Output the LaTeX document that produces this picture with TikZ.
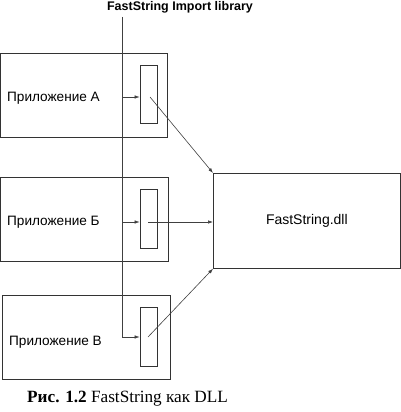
\documentclass[tikz,border=0pt]{standalone}
\usepackage{fontspec}
\setmainfont{Liberation Serif}
\newfontfamily\arialf{Liberation Sans}
\usetikzlibrary{arrows.meta}
\begin{document}
\begin{tikzpicture}[x=1pt,y=-1pt,
  box/.style={draw=black!80,line width=0.7pt},
  lbl/.style={font=\arialf\fontsize{13.6}{15}\selectfont,inner sep=0pt},
  conn/.style={draw=black!75,line width=0.6pt},
  arr/.style={conn,-{Latex[length=5pt,width=3.5pt]}}]
\useasboundingbox (0,0) rectangle (400,412);
% title
\node[inner sep=0pt,font=\arialf\bfseries\fontsize{12.5}{14}\selectfont] (title) at (180,7) {FastString Import library};
% app boxes
\draw[box] (0.5,53) rectangle (167,137);
\draw[box] (0.5,177) rectangle (168,261);
\draw[box] (2,295) rectangle (170,379);
\node[lbl,anchor=west] (tA) at (7,98) {Приложение А};
\node[lbl,anchor=west] (tB) at (7,222) {Приложение Б};
\node[lbl,anchor=west] (tC) at (9,342) {Приложение В};
% small stubs
\node[box,minimum width=17pt,minimum height=58pt,inner sep=0pt] (sA) at (148.5,94) {};
\node[box,minimum width=17pt,minimum height=59pt,inner sep=0pt] (sB) at (148.5,218.5) {};
\node[box,minimum width=17pt,minimum height=59pt,inner sep=0pt] (sC) at (148.5,336.5) {};
% dll
\node[box,minimum width=187pt,minimum height=95pt,inner sep=0pt,anchor=north west,
      font=\arialf\fontsize{14}{16}\selectfont] (dll) at (213,173) {FastString.dll};
% import library line
\coordinate (top) at (122,17);
\coordinate (bot) at (122,337);
\coordinate (jA) at (122,97);
\coordinate (jB) at (122,222);
\coordinate (pA) at (150,97);
\coordinate (pB) at (148,222);
\coordinate (pC) at (148,337);
\draw[conn] (top) -- (bot);
\draw[arr] (jA) -- (sA.west |- jA);
\draw[arr] (jB) -- (sB.west |- jB);
\draw[arr] (bot) -- (sC.west |- bot);
\draw[arr] (pA) -- (dll.north west);
\draw[arr] (pB) -- (dll.west |- pB);
\draw[arr] (pC) -- (dll.south west);
% caption
\node[inner sep=0pt,anchor=west,font=\fontsize{17.2}{20}\selectfont] (cap) at (27,399) {\textbf{Рис. 1.2} FastString как DLL};
\end{tikzpicture}
\end{document}
